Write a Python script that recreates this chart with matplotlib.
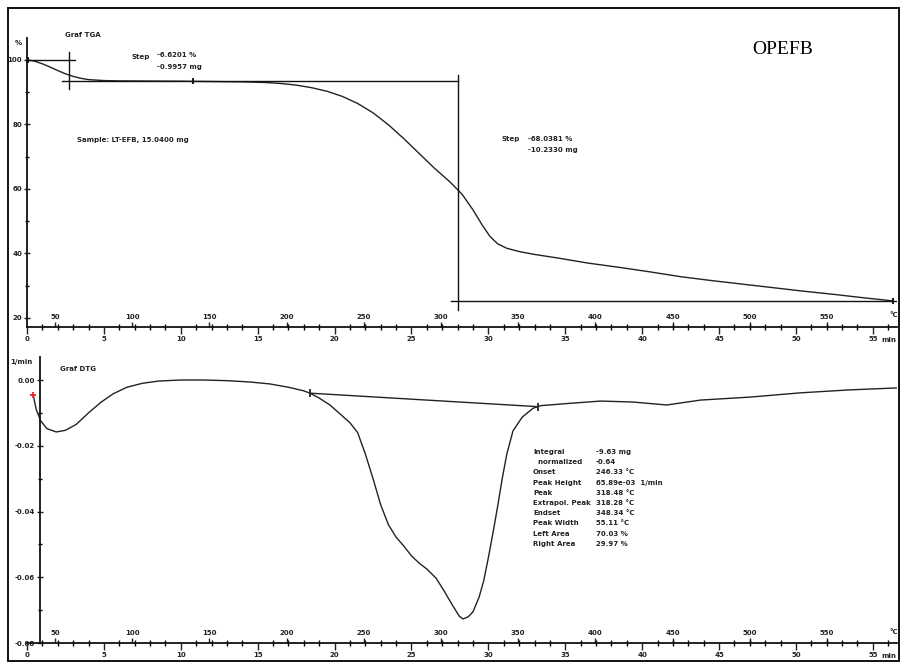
import matplotlib
matplotlib.use("Agg")
import matplotlib.pyplot as plt
from matplotlib.patches import Rectangle
from matplotlib.ticker import MultipleLocator, FixedLocator

# --- data ---
tga_time = [0.05, 0.5, 1.0, 1.5, 2.0, 2.5, 3.0, 3.5, 4.0, 5.0, 6.0, 8.0, 10.0,
            12.0, 14.0, 15.5, 16.5, 17.5, 18.5, 19.5, 20.5, 21.5, 22.5, 23.5,
            24.5, 25.5, 26.5, 27.5, 28.3, 29.0, 29.6, 30.1, 30.6, 31.2, 32.0,
            33.0, 34.5, 36.5, 38.5, 40.5, 42.5, 44.5, 46.5, 48.5, 50.5, 52.5,
            54.5, 56.3]
tga_mass = [100.0, 99.6, 98.8, 97.8, 96.7, 95.7, 94.9, 94.3, 93.9, 93.6, 93.5,
            93.45, 93.4, 93.3, 93.2, 93.0, 92.7, 92.2, 91.4, 90.3, 88.7, 86.5,
            83.6, 79.9, 75.6, 71.0, 66.4, 62.2, 58.3, 53.5, 48.8, 45.3, 43.0,
            41.6, 40.6, 39.7, 38.6, 37.0, 35.7, 34.3, 32.8, 31.6, 30.5, 29.4,
            28.3, 27.3, 26.2, 25.3]

dtg_time = [0.4, 0.6, 0.9, 1.3, 1.9, 2.5, 3.2, 4.0, 4.8, 5.6, 6.5, 7.5, 8.6,
            10.0, 11.5, 13.0, 14.5, 15.8, 17.0, 18.0, 18.4, 19.0, 19.7, 20.4,
            21.0, 21.5, 22.0, 22.5, 23.0, 23.5, 24.0, 24.5, 25.0, 25.5, 26.0,
            26.6, 27.1, 27.6, 28.1, 28.35, 28.7, 29.0, 29.4, 29.7, 30.0, 30.3,
            30.6, 30.9, 31.2, 31.6, 32.2, 32.9, 33.4, 35.0, 37.3, 39.4, 41.6,
            43.8, 47.0, 50.3, 53.5, 56.6]
dtg_rate = [-0.0045, -0.0090, -0.0125, -0.0148, -0.0158, -0.0153, -0.0135,
            -0.0100, -0.0068, -0.0042, -0.0022, -0.0010, -0.0003, 0.0, 0.0,
            -0.0002, -0.0006, -0.0012, -0.0022, -0.0033, -0.0040, -0.0055,
            -0.0076, -0.0105, -0.0130, -0.0160, -0.0225, -0.0300, -0.0380,
            -0.0440, -0.0478, -0.0505, -0.0535, -0.0557, -0.0575, -0.0603,
            -0.0640, -0.0680, -0.0718, -0.0727, -0.0720, -0.0705, -0.0660,
            -0.0610, -0.0540, -0.0465, -0.0385, -0.0300, -0.0225, -0.0155,
            -0.0113, -0.0086, -0.0078, -0.0072, -0.0064, -0.0067, -0.0076,
            -0.0061, -0.0052, -0.0039, -0.0030, -0.0024]

# step evaluation lines (TGA)
step_start, step_mid, step_end = 100.0, 93.38, 25.34
step1_time = 2.7
step2_time = 28.0
# integration baseline (DTG)
base_time = [18.4, 33.2]
base_rate = [-0.0040, -0.0081]

minute_ticks = list(range(0, 60, 5))
temp_ticks = [50, 100, 150, 200, 250, 300, 350, 400, 450, 500, 550]
tga_yticks = [20, 40, 60, 80, 100]
dtg_yticks = [0.0, -0.02, -0.04, -0.06, -0.08]

int_labels = ["Integral", "  normalized", "Onset", "Peak Height", "Peak",
              "Extrapol. Peak", "Endset", "Peak Width", "Left Area", "Right Area"]
int_values = ["-9.63 mg", "-0.64", "246.33 \u00b0C", "65.89e-03  1/min",
              "318.48 \u00b0C", "318.28 \u00b0C", "348.34 \u00b0C",
              "55.11 \u00b0C", "70.03 %", "29.97 %"]

T0, RATE = 31.9, 9.96  # sample temperature = T0 + RATE * t
TMAX = 56.57

W, H = 901, 662
FS = 5
INK = "#222222"
plt.rcParams["font.family"] = ["DejaVu Sans"]
plt.rcParams["font.weight"] = "bold"

fig = plt.figure(figsize=(W / 100, H / 100), dpi=100)


def fx(px):
    return px / W


def fy(py):
    return 1 - py / H


def put(px, py, s, **kw):
    fig.text(fx(px), fy(py), s, fontsize=kw.pop("fontsize", FS),
             color=kw.pop("color", INK), va=kw.pop("va", "center"), **kw)


# outer frame
fig.add_artist(Rectangle((fx(8), fy(661)), fx(899) - fx(8), fy(8) - fy(661),
                         transform=fig.transFigure, fill=False, lw=1.4,
                         edgecolor="#111111"))


def style_time_axis(ax):
    ax.set_xlim(0, TMAX)
    for s in ("top", "right"):
        ax.spines[s].set_visible(False)
    for s in ("left", "bottom"):
        ax.spines[s].set_linewidth(1.3)
        ax.spines[s].set_color("#111111")
    ax.xaxis.set_major_locator(FixedLocator(minute_ticks))
    ax.xaxis.set_minor_locator(MultipleLocator(1))
    ax.tick_params(axis="x", which="major", direction="out", length=5,
                   width=1.0, labelsize=FS, pad=1.5, colors=INK)
    ax.tick_params(axis="x", which="minor", direction="inout", length=4,
                   width=1.0)
    ax.set_xticklabels([str(m) for m in minute_ticks])

    sec = ax.secondary_xaxis(0, functions=(lambda t: T0 + RATE * t,
                                           lambda T: (T - T0) / RATE))
    sec.set_alignment("top")
    sec.set_xticks(temp_ticks)
    sec.set_xticklabels([str(T) for T in temp_ticks])
    sec.tick_params(axis="x", direction="out", length=3.5, width=1.0,
                    labelsize=FS, pad=1.5, colors=INK)
    for s in sec.spines.values():
        s.set_visible(False)


# ---------------- TGA panel ----------------
ax1 = fig.add_axes([fx(27), fy(327), fx(897) - fx(27), (327 - 38) / H])
style_time_axis(ax1)
ax1.set_ylim(17.2, 106.8)
ax1.yaxis.set_major_locator(FixedLocator(tga_yticks))
ax1.yaxis.set_minor_locator(MultipleLocator(10))
ax1.set_yticklabels([str(v) for v in tga_yticks])
ax1.tick_params(axis="y", which="major", direction="inout", length=5,
                width=1.0, labelsize=FS, pad=1, colors=INK)
ax1.tick_params(axis="y", which="minor", direction="inout", length=3, width=1.0)

ax1.plot(tga_time, tga_mass, color=INK, lw=1.0)
ax1.plot(tga_time[0], tga_mass[0], marker="|", color=INK, ms=4, mew=1.5)
ax1.plot(10.8, 93.4, marker="|", color=INK, ms=4, mew=1.5)
ax1.plot(tga_time[-1], tga_mass[-1], marker="|", color=INK, ms=4, mew=1.5)
# step evaluation construction
ax1.plot([0.0, 3.1], [step_start, step_start], color="#111111", lw=1.0)
ax1.plot([step1_time, step1_time], [91.0, 102.5], color="#111111", lw=1.0)
ax1.plot([2.3, step2_time], [step_mid, step_mid], color="#111111", lw=1.0)
ax1.plot([step2_time, step2_time], [22.5, 95.3], color="#111111", lw=1.0)
ax1.plot([27.6, TMAX], [step_end, step_end], color="#111111", lw=1.0)

# ---------------- DTG panel ----------------
ax2 = fig.add_axes([fx(27), fy(643), fx(897) - fx(27), (643 - 357) / H])
style_time_axis(ax2)
ax2.spines["left"].set_position(("data", 0.85))
ax2.set_ylim(-0.08, 0.007)
ax2.yaxis.set_major_locator(FixedLocator(dtg_yticks))
ax2.yaxis.set_minor_locator(MultipleLocator(0.01))
ax2.set_yticklabels([f"{v:.2f}" for v in dtg_yticks])
ax2.tick_params(axis="y", which="major", direction="inout", length=5,
                width=1.0, labelsize=FS, pad=1, colors=INK)
ax2.tick_params(axis="y", which="minor", direction="inout", length=3, width=1.0)

ax2.plot(dtg_time, dtg_rate, color=INK, lw=1.0)
ax2.plot(dtg_time[0], dtg_rate[0], marker="+", color="#e8262a", ms=5, mew=1.3)
ax2.plot(base_time, base_rate, color=INK, lw=1.0)
ax2.plot(base_time, base_rate, ls="none", marker="|", color=INK, ms=6, mew=1.3)

# ---------------- texts ----------------
put(15, 43, "%")
put(65, 35, "Graf TGA")
put(132, 57, "Step")
put(157, 55, "-6.6201 %")
put(157, 67, "-0.9957 mg")
put(77, 140, "Sample: LT-EFB, 15.0400 mg")
put(502, 139, "Step")
put(528, 139, "-68.0381 %")
put(528, 150, "-10.2330 mg")
put(752, 50, "OPEFB", fontsize=14, color="black", fontweight="normal",
    family=["Liberation Serif", "DejaVu Serif"])

put(10, 362, "1/min")
put(60, 369, "Graf DTG")
for i, (lab, val) in enumerate(zip(int_labels, int_values)):
    y = 452 + i * 10.2
    put(533, y, lab)
    put(596, y, val)

for yy in (315, 632):
    put(889, yy, "\u00b0C")
for yy in (340, 656):
    put(881, yy, "min")

fig.savefig("out.png", dpi=100, facecolor="white")
